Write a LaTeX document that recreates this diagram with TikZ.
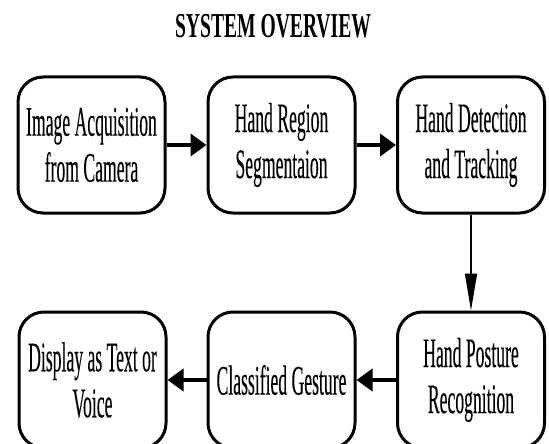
\documentclass[tikz,border=0pt]{standalone}
\usepackage{fontspec}
\setmainfont{Liberation Serif}[FakeStretch=0.42,FakeBold=0.15]
\newfontfamily\titlefont{Liberation Serif}[FakeStretch=0.56]
\usetikzlibrary{arrows.meta}
\begin{document}
\begin{tikzpicture}[x=1pt,y=-1pt,
  stepbox/.style={draw=black, fill=white, line width=3pt, rounded corners=25pt,
    minimum width=147pt, minimum height=136pt, align=center, inner sep=0pt,
    font=\fontsize{42}{46}\selectfont},
  flow/.style={line width=4pt, -{Triangle[length=16pt,width=22pt]}},
  down/.style={line width=1.5pt, -{Triangle[length=37pt,width=12pt]}}
]
\useasboundingbox (0,0) rectangle (549,444);
\clip (0,0) rectangle (549,444);
\node[anchor=base] (title) at (273,38) {\titlefont\bfseries\fontsize{35}{35}\selectfont SYSTEM OVERVIEW};

\node[stepbox] (acq) at (91.5,145) {Image Acquisition\\from Camera};
\node[stepbox] (seg) at (281.5,145) {Hand Region\\Segmentaion};
\node[stepbox] (det) at (471,145) {Hand Detection\\and Tracking};
\node[stepbox] (pos) at (471,380) {Hand Posture\\Recognition};
\node[stepbox] (cls) at (281.5,380) {Classified Gesture};
\node[stepbox] (dis) at (92.5,380) {Display as Text or\\Voice};

\draw[flow] (acq) -- (seg);
\draw[flow] (seg) -- (det);
\draw[down] (det) -- (pos);
\draw[flow] (pos) -- (cls);
\draw[flow] (cls) -- (dis);
\end{tikzpicture}
\end{document}
